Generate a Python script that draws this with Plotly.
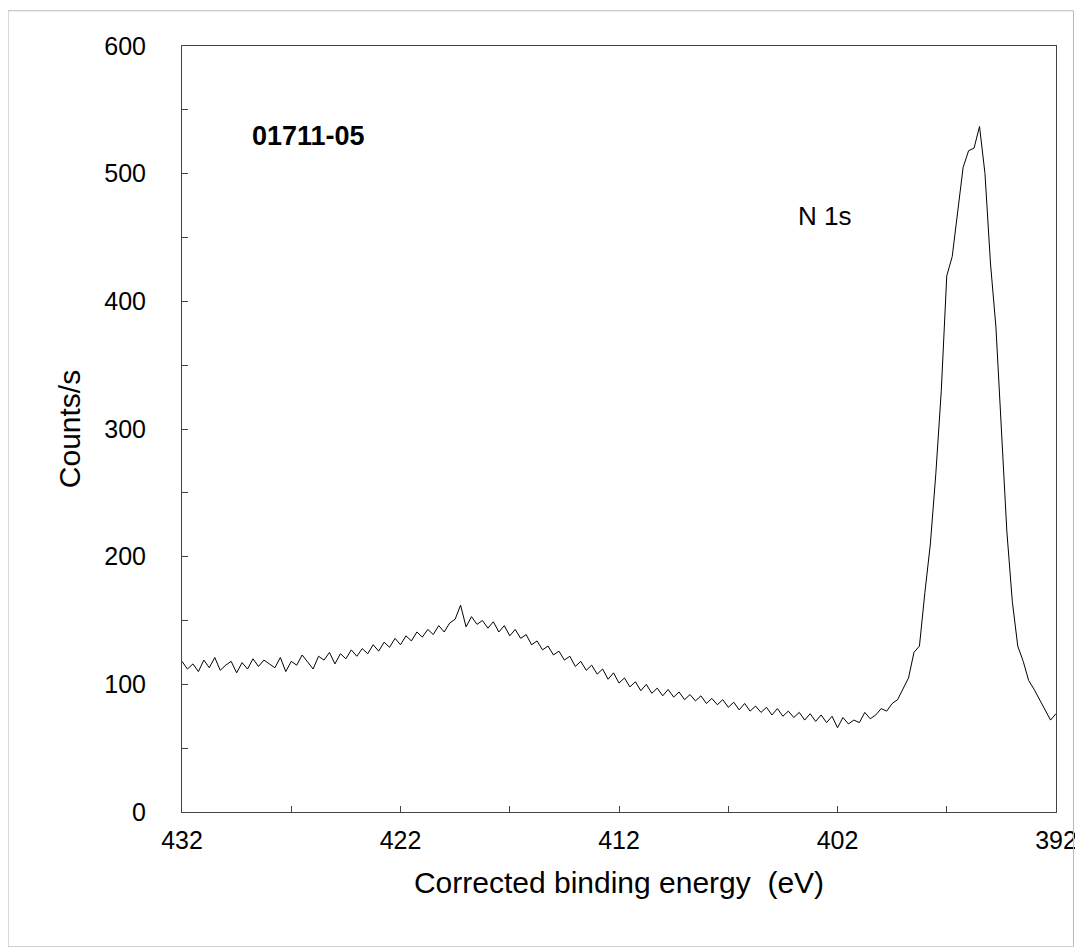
import numpy as np
import plotly.graph_objects as go

# binding energy grid, 0.25 eV steps from 432 down to 392
energy = [432 - 0.25 * i for i in range(161)]

counts = [
    118, 112, 116, 110, 119, 113, 121, 111, 115, 118, 109, 117, 112, 120, 114, 119, 116,
    113, 121, 110, 118, 115, 123, 117, 112, 122, 119, 125, 116, 124, 120, 127, 122,
    128, 124, 131, 126, 133, 129, 136, 131, 138, 134, 141, 137, 143, 139, 146, 141,
    148, 151, 162, 145, 153, 147, 150, 144, 149, 141, 146, 138, 143, 136, 139, 131,
    134, 127, 130, 123, 126, 119, 122, 114, 118, 111, 115, 108, 112, 104, 109, 101,
    105, 98, 102, 95, 100, 93, 97, 91, 96, 90, 94, 88, 92, 87, 91, 85,
    89, 84, 88, 82, 86, 80, 85, 79, 83, 78, 82, 76, 81, 75, 79, 74,
    78, 72, 77, 71, 76, 70, 75, 66, 74, 69, 72, 70, 78, 73, 76, 81,
    79, 85, 88, 96, 105, 125, 130, 172, 210, 265, 330, 420, 435, 470, 505, 518,
    520, 537, 500, 430, 380, 300, 220, 165, 130, 118, 103, 96, 88, 80, 72, 77,
]

x_ticks = [432, 422, 412, 402, 392]
y_ticks = [0, 100, 200, 300, 400, 500, 600]

fig = go.Figure()
fig.add_trace(go.Scatter(x=energy, y=counts, mode='lines',
                         line=dict(color='black', width=1)))

# minor ticks (inside) every 5 eV / 50 counts
fig.update_xaxes(range=[432, 392], tickvals=x_ticks, ticks='inside', ticklen=6,
                 minor=dict(dtick=5, tick0=392, ticks='inside', ticklen=6, tickcolor='#444'),
                 showline=True, linecolor='#444', mirror=True, showgrid=False, zeroline=False,
                 tickfont=dict(size=25, color='black'), ticklabelstandoff=6,
                 title=dict(text='Corrected binding energy  (eV)', font=dict(size=30, color='black'),
                            standoff=18))
fig.update_yaxes(range=[0, 600], tickvals=y_ticks, ticks='inside', ticklen=6,
                 minor=dict(dtick=50, ticks='inside', ticklen=6, tickcolor='#444'),
                 showline=True, linecolor='#444', mirror=True, showgrid=False, zeroline=False,
                 tickfont=dict(size=25, color='black'), ticklabelstandoff=30,
                 title=dict(text='Counts/s', font=dict(size=30, color='black'), standoff=14))

fig.add_annotation(x=0.078, y=0.905, xref='paper', yref='paper', text='<b>01711-05</b>',
                   showarrow=False, xanchor='left', font=dict(size=27, color='black'))
fig.add_annotation(x=0.702, y=0.8, xref='paper', yref='paper', text='N 1s',
                   showarrow=False, xanchor='left', font=dict(size=26, color='black'))

# outer frame
fig.add_shape(type='rect', xref='paper', yref='paper', x0=-0.199, x1=1.02, y0=-0.176, y1=1.046,
              line=dict(color='#bbbbbb', width=1))

fig.update_layout(width=1083, height=947, margin=dict(l=174, r=35, t=38, b=143),
                  plot_bgcolor='white', paper_bgcolor='white', showlegend=False,
                  font=dict(family='Liberation Sans, Arial, sans-serif'))

fig.write_html('out.html')
